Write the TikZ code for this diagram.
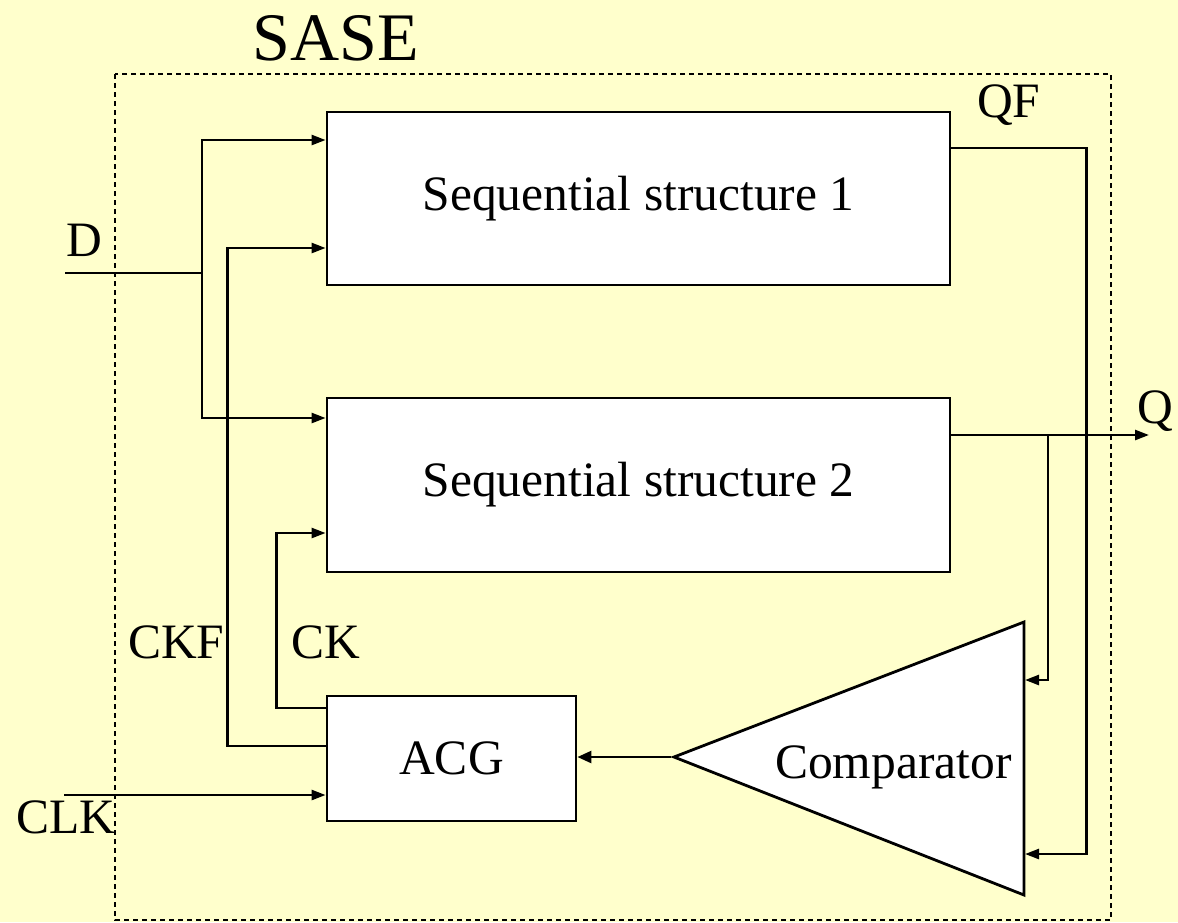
\documentclass[tikz,border=0pt]{standalone}
\usepackage{fontspec}
\setmainfont{Liberation Serif}
\usetikzlibrary{arrows.meta}
\usetikzlibrary{positioning}
\definecolor{paper}{RGB}{255,255,204}

\begin{document}
\begin{tikzpicture}[x=1pt,y=-1pt,
    every node/.style={font=\fontsize{49.5}{58}\selectfont},
    block/.style={draw,fill=white,line width=2.8pt,inner sep=0pt},
    sig/.style={line width=2.5pt},
    sigarrow/.style={sig,-{Triangle[length=14pt,width=10pt]}},
    lbl/.style={inner sep=0pt,anchor=base west}]
\useasboundingbox[fill=paper] (0,0) rectangle (1178,922);

\draw[line width=2.2pt,dash pattern=on 5pt off 4pt] (115,74) rectangle (1111,920);
\node[anchor=base,inner sep=0pt,font=\fontsize{68}{80}\selectfont] (title) at (336,60) {SASE};

\node[block,minimum width=623pt,minimum height=173pt] (seq1) at (638.5,198.5) {Sequential structure 1};
\node[block,minimum width=623pt,minimum height=174pt] (seq2) at (638.5,485) {Sequential structure 2};
\node[block,minimum width=249pt,minimum height=125pt] (acg) at (451.5,758.5) {ACG};

% comparator
\coordinate (cmpA) at (674,757);
\coordinate (cmpT) at (1024,622);
\coordinate (cmpB) at (1024,895);
\filldraw[fill=white,line width=2.8pt] (cmpA) -- (cmpT) -- (cmpB) -- cycle;
\node[lbl] (cmp) at (775,778) {Comparator};
\coordinate (cmpIn1) at (1025,680);
\coordinate (cmpIn2) at (1025,854);

\coordinate (dIn) at (65,273);
\coordinate (dJ) at (202,273);
\coordinate (clkIn) at (64,795);
\coordinate (qJ) at (1048,435);
\coordinate (qOut) at (1149,435);

\draw[sig] (dIn) -- (dJ);
\draw[sigarrow] (dJ) |- ([yshift=58.5pt]seq1.west);
\draw[sigarrow] (dJ) |- ([yshift=67pt]seq2.west);

\draw[sigarrow] ([yshift=12.5pt]acg.west) -- ++(-98,0) |- ([yshift=-49.5pt]seq1.west);
\draw[sigarrow] ([yshift=50.5pt]acg.west) -- ++(-49,0) |- ([yshift=-48pt]seq2.west);
\draw[sigarrow] (clkIn) -- (clkIn -| acg.west);

\draw[sigarrow] ([yshift=50.5pt]seq1.east) -- ++(135,0) |- (cmpIn2);
\draw[sigarrow] ([yshift=50pt]seq2.east) -- (qOut);
\draw[sigarrow] (qJ) |- (cmpIn1);
\draw[sig,-{Triangle[length=14pt,width=12pt]}] ([xshift=-3pt]cmpA) -- (cmpA -| acg.east);

\node[lbl] (dLbl) at (66,256) {D};
\node[lbl] (qfLbl) at (977,117) {QF};
\node[lbl] (qLbl) at (1137,423) {Q};
\node[lbl] (ckfLbl) at (128,658) {CKF};
\node[lbl] (ckLbl) at (291,658) {CK};
\node[lbl] (clkLbl) at (16,833) {CLK};
\end{tikzpicture}
\end{document}
